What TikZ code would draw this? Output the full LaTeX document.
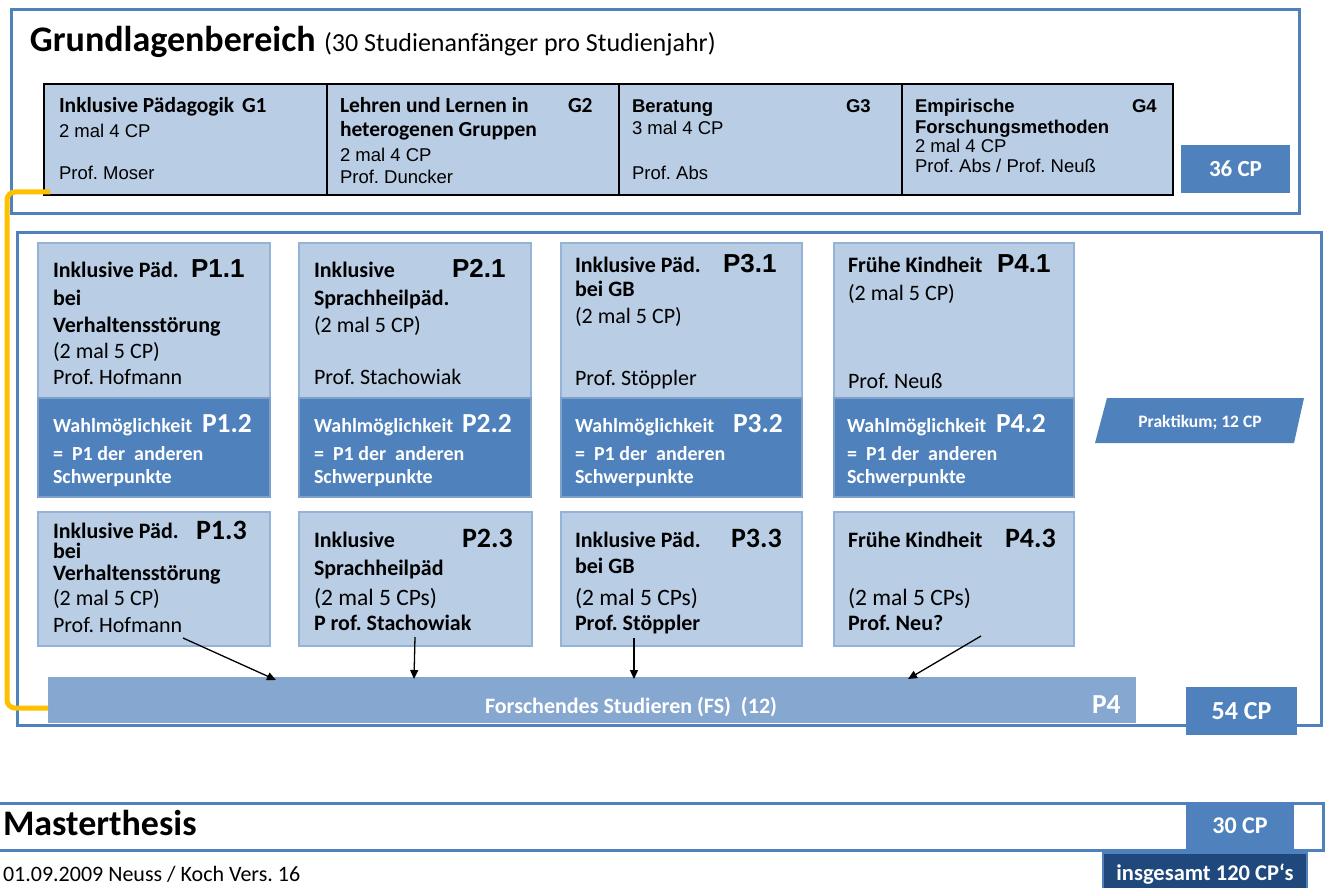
\documentclass[tikz,border=0pt]{standalone}
\usepackage{fontspec}
\setmainfont{Carlito}
\newfontfamily\arialf{Liberation Sans}
\usetikzlibrary{fit,arrows.meta}
\newcommand\myfs[1]{\fontsize{#1pt}{#1pt}\selectfont}
\definecolor{bord}{HTML}{4F81BD}
\definecolor{lfill}{HTML}{B9CDE5}
\definecolor{lbord}{HTML}{95B3D7}
\definecolor{dfill}{HTML}{4F81BD}
\definecolor{dbord}{HTML}{7EA1CC}
\definecolor{fsfill}{HTML}{85A7D0}
\definecolor{navy}{HTML}{1F497D}
\definecolor{ylw}{HTML}{FFC000}
\frenchspacing
\begin{document}
\begin{tikzpicture}[x=1pt,y=-1pt,
  outerbox/.style={draw=bord, line width=3pt, inner sep=0pt},
  cell/.style={draw=black, line width=1.4pt, fill=lfill, inner sep=0pt},
  lbox/.style={draw=lbord, line width=2pt, fill=lfill, inner sep=0pt},
  dbox/.style={draw=dbord, line width=1.5pt, fill=dfill, inner sep=0pt},
  cpbox/.style={fill=bord, inner sep=0pt},
  txt/.style={anchor=base west, inner sep=0pt, outer sep=0pt},
  hbold/.style={txt, font=\bfseries\myfs{22}},
  gbold/.style={txt, font=\bfseries\myfs{21.5}},
  hreg/.style={txt, font=\myfs{22}},
  abold/.style={txt, font=\arialf\bfseries\myfs{18.5}},
  areg/.style={txt, font=\arialf\myfs{18.5}},
  codeA/.style={txt, font=\arialf\bfseries\myfs{26}},
  codeB/.style={txt, font=\bfseries\myfs{28}},
  wtxt/.style={txt, text=white, font=\bfseries\myfs{20}},
  wcode/.style={txt, text=white, font=\bfseries\myfs{27.5}},
  cptxt/.style={text=white, inner sep=0pt, font=\bfseries\myfs{#1}},
  arr/.style={-{Triangle[length=9pt,width=8pt]}, line width=1.3pt},
  yl/.style={draw=ylw, line width=5pt, rounded corners=8pt}
]
\useasboundingbox (0,0) rectangle (1326,888);
\fill[white] (0,0) rectangle (1326,888);

% ---------- Grundlagenbereich ----------
\node[outerbox, fit={(11,10) (1299,213)}] (gb) {};
\node[txt, font=\bfseries\myfs{36}] (title) at (30,52) {Grundlagenbereich};
\node[txt, font=\myfs{26}] (subtitle) at (324,52) {(30 Studienanfänger pro Studienjahr)};

\node[cell, fit={(44,84) (327,195)}] (g1) {};
\node[cell, fit={(327,84) (619,195)}] (g2) {};
\node[cell, fit={(619,84) (902,195)}] (g3) {};
\node[cell, fit={(902,84) (1173,195)}] (g4) {};

\node[gbold] (g1a) at (59,113) {Inklusive Pädagogik};
\node[gbold] (g1c) at (242,113) {G1};
\node[areg] (g1b) at (59,138) {2 mal 4 CP};
\node[areg] (g1d) at (59,180) {Prof. Moser};

\node[gbold] (g2a) at (340,113) {Lehren und Lernen in};
\node[gbold] (g2c) at (568,113) {G2};
\node[gbold] (g2b) at (340,137) {heterogenen Gruppen};
\node[areg] (g2d) at (340,162) {2 mal 4 CP};
\node[areg] (g2e) at (340,184) {Prof. Duncker};

\node[abold] (g3a) at (632,113) {Beratung};
\node[abold] (g3c) at (846,113) {G3};
\node[areg] (g3b) at (632,135) {3 mal 4 CP};
\node[areg] (g3d) at (632,180) {Prof. Abs};

\node[abold] (g4a) at (915,113) {Empirische};
\node[abold] (g4c) at (1132,113) {G4};
\node[abold] (g4b) at (915,134) {Forschungsmethoden};
\node[areg] (g4d) at (915,153) {2 mal 4 CP};
\node[areg] (g4e) at (915,172) {Prof. Abs / Prof. Neuß};

\node[cpbox, fit={(1181,145) (1290,193)}] (cp36) {};
\node[cptxt=23] (cp36t) at (cp36.center) {36 CP};

% ---------- Profile ----------
\node[outerbox, fit={(17,232) (1321,725)}] (prof) {};

\node[lbox, fit={(38,243) (270,398)}] (p11) {};
\node[lbox, fit={(299,243) (531,398)}] (p21) {};
\node[lbox, fit={(561,243) (802,398)}] (p31) {};
\node[lbox, fit={(834,243) (1074,398)}] (p41) {};

\node[dbox, fit={(38,398) (270,497)}] (p12) {};
\node[dbox, fit={(299,398) (531,497)}] (p22) {};
\node[dbox, fit={(561,398) (802,497)}] (p32) {};
\node[dbox, fit={(834,398) (1074,497)}] (p42) {};

\node[lbox, fit={(38,512) (270,646)}] (p13) {};
\node[lbox, fit={(299,512) (532,646)}] (p23) {};
\node[lbox, fit={(561,512) (802,646)}] (p33) {};
\node[lbox, fit={(834,512) (1074,646)}] (p43) {};

% row 1 texts
\node[hbold] (t11a) at (53,277) {Inklusive Päd.};
\node[codeA] (t11c) at (191,277) {P1.1};
\node[hbold] (t11b) at (53,305) {bei};
\node[hbold] (t11d) at (53,332) {Verhaltensstörung};
\node[hreg] (t11e) at (53,358) {(2 mal 5 CP)};
\node[hreg] (t11f) at (53,384) {Prof. Hofmann};

\node[hbold] (t21a) at (314,277) {Inklusive};
\node[codeA] (t21c) at (452,277) {P2.1};
\node[hbold] (t21b) at (314,305) {Sprachheilpäd.};
\node[hreg] (t21d) at (314,332) {(2 mal 5 CP)};
\node[hreg] (t21e) at (314,384) {Prof. Stachowiak};

\node[hbold] (t31a) at (575,272) {Inklusive Päd.};
\node[codeA] (t31c) at (723,272) {P3.1};
\node[hbold] (t31b) at (575,296) {bei GB};
\node[hreg] (t31d) at (575,323) {(2 mal 5 CP)};
\node[hreg] (t31e) at (575,385) {Prof. Stöppler};

\node[hbold] (t41a) at (848,272) {Frühe Kindheit};
\node[codeA] (t41c) at (997,272) {P4.1};
\node[hreg] (t41d) at (848,300) {(2 mal 5 CP)};
\node[hreg] (t41e) at (848,388) {Prof. Neuß};

% row 2 texts
\node[wtxt] (t12a) at (53,432) {Wahlmöglichkeit};
\node[wcode] (t12c) at (202,432) {P1.2};
\node[wtxt] (t12b) at (53,460) {=\ \ P1 der\ \ anderen};
\node[wtxt] (t12d) at (53,483) {Schwerpunkte};

\node[wtxt] (t22a) at (314,432) {Wahlmöglichkeit};
\node[wcode] (t22c) at (462,432) {P2.2};
\node[wtxt] (t22b) at (314,460) {=\ \ P1 der\ \ anderen};
\node[wtxt] (t22d) at (314,483) {Schwerpunkte};

\node[wtxt] (t32a) at (575,432) {Wahlmöglichkeit};
\node[wcode] (t32c) at (733,432) {P3.2};
\node[wtxt] (t32b) at (575,460) {=\ \ P1 der\ \ anderen};
\node[wtxt] (t32d) at (575,483) {Schwerpunkte};

\node[wtxt] (t42a) at (847,432) {Wahlmöglichkeit};
\node[wcode] (t42c) at (996,432) {P4.2};
\node[wtxt] (t42b) at (847,460) {=\ \ P1 der\ \ anderen};
\node[wtxt] (t42d) at (847,483) {Schwerpunkte};

% row 3 texts
\node[hbold] (t13a) at (53,538) {Inklusive Päd.};
\node[codeB] (t13c) at (196,539) {P1.3};
\node[hbold] (t13b) at (53,558) {bei};
\node[hbold] (t13d) at (53,580) {Verhaltensstörung};
\node[hreg] (t13e) at (53,605) {(2 mal 5 CP)};
\node[hreg] (t13f) at (53,632) {Prof. Hofmann};

\node[hbold] (t23a) at (314,547) {Inklusive};
\node[codeB] (t23c) at (462,547) {P2.3};
\node[hbold] (t23b) at (314,575) {Sprachheilpäd};
\node[txt, font=\myfs{23.5}] (t23d) at (314,605) {(2 mal 5 CPs)};
\node[hbold] (t23e) at (314,630) {P rof. Stachowiak};

\node[hbold] (t33a) at (575,547) {Inklusive Päd.};
\node[codeB] (t33c) at (731,547) {P3.3};
\node[hbold] (t33b) at (575,573) {bei GB};
\node[txt, font=\myfs{23.5}] (t33d) at (575,605) {(2 mal 5 CPs)};
\node[hbold] (t33e) at (575,630) {Prof. Stöppler};

\node[hbold] (t43a) at (848,547) {Frühe Kindheit};
\node[codeB] (t43c) at (1005,547) {P4.3};
\node[txt, font=\myfs{23.5}] (t43d) at (848,605) {(2 mal 5 CPs)};
\node[hbold] (t43e) at (848,630) {Prof. Neu?};

% Praktikum
\path[fill=bord] (1107,398) -- (1304,398) -- (1294,443) -- (1095,443) -- cycle;
\node[txt, anchor=base, text=white, font=\bfseries\myfs{17.5}] (prak) at (1200,427) {Praktikum; 12 CP};

% Forschendes Studieren bar
\node[fill=fsfill, inner sep=0pt, fit={(48,677) (1136,723)}] (fs) {};
\node[txt, anchor=base, text=white, font=\bfseries\myfs{22}] (fst) at (631,713) {Forschendes Studieren (FS)\ \ (12)};
\node[txt, text=white, font=\bfseries\myfs{27.5}] (fsp) at (1092,713) {P4};

\node[cpbox, fit={(1186,687) (1297,735)}] (cp54) {};
\node[cptxt=26] (cp54t) at (cp54.center) {54 CP};

% arrows
\coordinate (a1s) at (183,638); \coordinate (a1e) at (276,680);
\coordinate (a2s) at (415,637); \coordinate (a2e) at (414,679);
\coordinate (a3s) at (634,638); \coordinate (a3e) at (634,679);
\coordinate (a4s) at (981,636); \coordinate (a4e) at (908,679);
\draw[arr] (a1s) -- (a1e);
\draw[arr] (a2s) -- (a2e);
\draw[arr] (a3s) -- (a3e);
\draw[arr] (a4s) -- (a4e);

% yellow connector
\coordinate (ys) at (50,192);
\coordinate (ye) at (48,708);
\draw[yl] (ys) -| (7,450) |- (ye);

% ---------- Masterthesis ----------
\draw[draw=bord, line width=3pt] (-3,803) -- (1323,803) -- (1323,850) -- (-3,850);
\node[txt, font=\bfseries\myfs{36}] (mt) at (3,835) {Masterthesis};
\node[cpbox, fit={(1186,803) (1294,849)}] (cp30) {};
\node[cptxt=24] (cp30t) at (cp30.center) {30 CP};

\node[txt, font=\myfs{22}] (foot) at (3,881) {01.09.2009 Neuss / Koch Vers. 16};
\node[fill=navy, draw=bord, line width=1.5pt, inner sep=0pt, fit={(1103,853) (1307,896)}] (tot) {};
\node[txt, anchor=base, text=white, font=\bfseries\myfs{22.5}] (tott) at (1205,880) {insgesamt 120 CP‘s};
\end{tikzpicture}
\end{document}
